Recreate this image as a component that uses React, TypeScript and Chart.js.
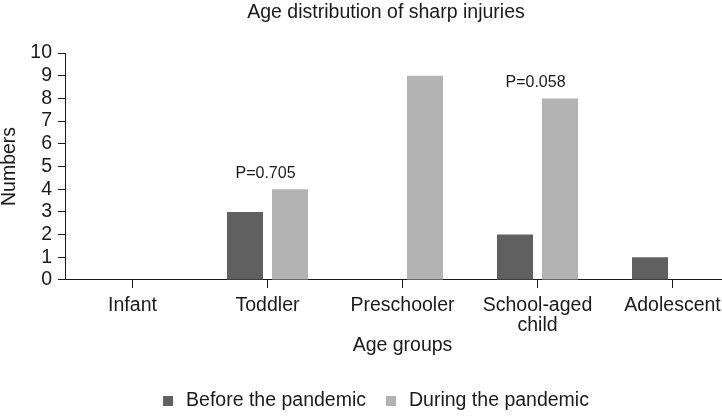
import React, { useEffect, useRef } from "react";
import { Chart, registerables } from "chart.js";

Chart.register(...registerables);

const categories: (string | string[])[] = ["Infant", "Toddler", "Preschooler", ["School-aged", "child"], "Adolescent"];
const beforeValues = [0, 3, 0, 2, 1];
const duringValues = [0, 4, 9, 8, 0];
const seriesLabels = ["Before the pandemic", "During the pandemic"];
const yTicks = [0, 1, 2, 3, 4, 5, 6, 7, 8, 9, 10];
const annotationIndices = [1, 3];
const annotationTexts = ["P=0.705", "P=0.058"];

const FONT = "'Liberation Sans', Arial, sans-serif";
const TEXT = "#1a1a1a";
const DARK = "#606060";
const LIGHT = "#b3b3b3";
const FS = 19.5;

const annotationPlugin = {
  id: "pAnnotations",
  afterDatasetsDraw(chart: any) {
    const { ctx } = chart;
    const xs = chart.scales.x;
    const ys = chart.scales.y;
    ctx.save();
    ctx.font = `16px ${FONT}`;
    ctx.fillStyle = TEXT;
    ctx.textAlign = "center";
    ctx.textBaseline = "middle";
    annotationIndices.forEach((idx, i) => {
      const top = Math.max(beforeValues[idx], duringValues[idx]);
      const x = xs.getPixelForValue(idx) - 2;
      const y = ys.getPixelForValue(top) - 16;
      ctx.fillText(annotationTexts[i], x, y);
    });
    ctx.restore();
  },
};

const legendPlugin = {
  id: "customLegend",
  afterDraw(chart: any) {
    const { ctx } = chart;
    ctx.save();
    ctx.font = `${FS}px ${FONT}`;
    const box = 10;
    const textGap = 13;
    const itemGap = 20;
    const items = chart.data.datasets.map((ds: any) => ({
      text: ds.label,
      color: ds.backgroundColor,
      w: ctx.measureText(ds.label).width,
    }));
    const total =
      items.reduce((s: number, it: any) => s + box + textGap + it.w, 0) + itemGap * (items.length - 1);
    const centerX = 376;
    let x = centerX - total / 2;
    const y = chart.height - 15.5;
    ctx.textBaseline = "middle";
    ctx.textAlign = "left";
    items.forEach((it: any) => {
      ctx.fillStyle = it.color;
      ctx.fillRect(x, y - 4.5, box, box);
      ctx.fillStyle = TEXT;
      ctx.fillText(it.text, x + box + textGap, y);
      x += box + textGap + it.w + itemGap;
    });
    ctx.restore();
  },
};

export default function App() {
  const ref = useRef<HTMLCanvasElement | null>(null);

  useEffect(() => {
    if (!ref.current) return;
    Chart.defaults.font.family = FONT;
    Chart.defaults.color = TEXT;
    const chart = new Chart(ref.current, {
      type: "bar",
      data: {
        labels: categories as any,
        datasets: [
          {
            label: seriesLabels[0],
            data: beforeValues,
            backgroundColor: DARK,
            categoryPercentage: 0.667,
            barPercentage: 0.8,
          },
          {
            label: seriesLabels[1],
            data: duringValues,
            backgroundColor: LIGHT,
            categoryPercentage: 0.667,
            barPercentage: 0.8,
          },
        ],
      },
      options: {
        responsive: false,
        animation: false,
        layout: { padding: { left: 0, right: 0, top: 0, bottom: 60.5 } },
        plugins: {
          legend: { display: false },
          tooltip: { enabled: false },
          title: {
            display: true,
            text: "Age distribution of sharp injuries",
            color: TEXT,
            font: { size: FS, lineHeight: 1.0, weight: "normal" },
            padding: { top: 3, bottom: 30.5 },
          },
        },
        scales: {
          x: {
            offset: true,
            grid: {
              offset: false,
              drawOnChartArea: false,
              drawTicks: true,
              tickLength: 8,
              color: TEXT,
            },
            border: { display: true, color: TEXT, width: 1 },
            ticks: {
              color: TEXT,
              font: { size: FS, lineHeight: 1.026 },
              padding: 8,
              maxRotation: 0,
              autoSkip: false,
            },
            title: {
              display: true,
              text: "Age groups",
              color: TEXT,
              font: { size: FS, lineHeight: 1.0 },
              padding: { top: -8, bottom: 0 },
            },
          },
          y: {
            min: 0,
            max: 10,
            afterBuildTicks: (s: any) => {
              s.ticks = yTicks.map((v) => ({ value: v }));
            },
            afterFit: (s: any) => {
              s.width = 65;
            },
            grid: {
              drawOnChartArea: false,
              drawTicks: true,
              tickLength: 7,
              color: TEXT,
            },
            border: { display: true, color: TEXT, width: 1 },
            ticks: {
              color: TEXT,
              font: { size: FS },
              padding: 6,
              stepSize: 1,
              autoSkip: false,
            },
            title: {
              display: true,
              text: "Numbers",
              color: TEXT,
              font: { size: FS, lineHeight: 1.0 },
              padding: { top: 0, bottom: 0 },
            },
          },
          yRight: {
            type: "linear",
            position: "right",
            display: true,
            grid: { display: false, drawTicks: false },
            border: { display: false },
            ticks: { display: false },
            afterFit: (s: any) => {
              s.width = 32;
            },
          },
        },
      },
      plugins: [annotationPlugin, legendPlugin],
    });
    return () => chart.destroy();
  }, []);

  return (
    <div style={{ position: "fixed", left: 0, top: 0, width: 722, height: 416, overflow: "hidden", background: "#fff" }}>
      <canvas ref={ref} width={772} height={416} style={{ display: "block" }} />
    </div>
  );
}
